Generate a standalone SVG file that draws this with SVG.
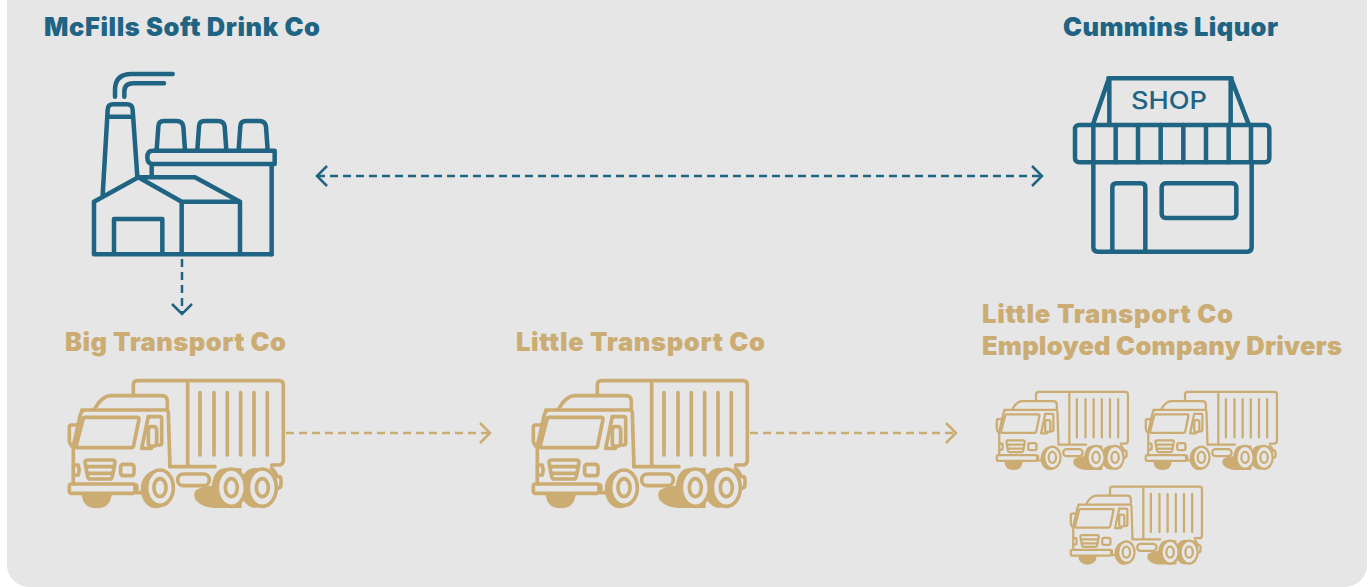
<svg xmlns="http://www.w3.org/2000/svg" xmlns:xlink="http://www.w3.org/1999/xlink" width="1370" height="587" viewBox="0 0 1370 587">
<style>
.head{font-family:"Inter","Liberation Sans",sans-serif;font-weight:900;font-size:25.500px}
.teal{fill:#1f6482}
.gold{fill:#cbac72}
.ico{fill:none;stroke-linecap:round;stroke-linejoin:round}
.tl{stroke:#1f6482;stroke-width:13.500}
.gd{stroke:#cbac72;stroke-width:11}
.conn{fill:none;stroke-width:2.500;stroke-dasharray:8 5}
</style>
<defs>
<marker id="ct" markerUnits="userSpaceOnUse" markerWidth="28" markerHeight="28" refX="14" refY="14" orient="auto-start-reverse" overflow="visible"><path d="M4 4L14 14L4 24" fill="none" stroke="#1f6482" stroke-width="2.500"/></marker>
<marker id="cg" markerUnits="userSpaceOnUse" markerWidth="28" markerHeight="28" refX="14" refY="14" orient="auto" overflow="visible"><path d="M4 4L14 14L4 24" fill="none" stroke="#cbac72" stroke-width="2.500"/></marker>
<g id="truck" transform="scale(.33333)">
<g class="gold">
<path d="M80 370H170Q168 415 125 415Q82 415 80 370Z"/>
<ellipse cx="303" cy="358" rx="46" ry="57"/>
<path d="M510 295Q478 295 470 347Q440 348 420 362Q415 375 420 388Q440 414 480 414H560V295Z"/>
<ellipse cx="600" cy="353" rx="45" ry="60"/>
</g>
<g class="ico gd">
<path d="M235 75V45Q235 32 248 32H672Q685 32 685 45V270Q685 285 670 285H650M398 32V290M345 290H480"/>
<path d="M435 68V255M477 68V255M517 68V255M557 68V255M597 68V255M637 68V255"/>
<path d="M120 115Q140 80 165 77H320Q337 77 337 95V115M80 120H335Q340 122 340 130L345 290"/>
<path d="M85 122Q78 125 76 135L55 228V342"/>
<path d="M90 142H247Q253 142 252 148L236 226Q235 233 228 233H68Q62 233 64 226L84 148Q85 142 90 142Z"/>
<path d="M65 165H50Q43 165 43 172V212Q43 220 50 228"/>
<path d="M280 140H314Q320 140 320 146V219Q320 225 314 225H303"/>
<path d="M280 140L260 235H290"/>
<rect x="280" y="170" width="25" height="58" rx="8"/>
<rect x="43" y="342" width="197" height="28" rx="6"/>
<path d="M90 278Q90 270 98 270H172Q180 270 180 278L172 320Q170 327 163 327H107Q100 327 98 320Z"/>
<path d="M95 290H176M98 310H173"/>
<rect x="197" y="283" width="40" height="34" rx="8"/>
<path d="M55 285H70Q75 300 70 315H55"/>
<path d="M245 345V368H270"/>
<rect x="368" y="312" width="95" height="35" rx="17"/>
<path d="M650 295Q665 310 665 320H672Q678 320 678 330V345Q678 353 668 355"/>
</g>
<g class="ico gd" style="fill:#e6e6e6">
<ellipse cx="315" cy="353" rx="40" ry="53"/>
<ellipse cx="315" cy="353" rx="18" ry="27"/>
<ellipse cx="529" cy="353" rx="42" ry="56"/>
<ellipse cx="529" cy="353" rx="18" ry="27"/>
<ellipse cx="622" cy="353" rx="42" ry="56"/>
<ellipse cx="622" cy="353" rx="18" ry="27"/>
</g>
</g>
</defs>
<rect id="panel" x="7" y="-40" width="1360" height="627" rx="22" fill="#e6e6e6"/>
<g id="connectors">
<path class="conn" stroke="#1f6482" d="M317 176H1042" marker-start="url(#ct)" marker-end="url(#ct)"/>
<path class="conn" stroke="#1f6482" d="M182 259V314" marker-end="url(#ct)"/>
<path class="conn" stroke="#cbac72" d="M286 433H490" marker-end="url(#cg)"/>
<path class="conn" stroke="#cbac72" d="M750 433H956" marker-end="url(#cg)"/>
</g>
<g id="mcfills">
<text class="head teal" x="44" y="35.500" textLength="276">McFills Soft Drink Co</text>
<g transform="translate(60 60) scale(.33333)" class="ico tl">
<path d="M165 110V90Q165 42 215 42H338M193 110V95Q193 70 220 70H312"/>
<path d="M128 405L143 150Q143 133 160 133H200Q218 133 218 150L232 350M148 170H215"/>
<path d="M290 270L295 200Q295 183 312 183H350Q368 183 370 200L375 270M412 270L417 200Q417 183 434 183H474Q492 183 494 200L499 270M536 270L541 200Q541 183 558 183H598Q616 183 618 200L623 270"/>
<path d="M278 272H644V312H278Q262 312 262 292Q262 272 278 272ZM275 312V350M635 312V583"/>
<path d="M102 425L235 352L365 425V583M102 425V583H635M235 352H405L540 425H365M540 425V583M162 583V477H307V583"/>
</g>
</g>
<g id="cummins">
<text class="head teal" x="1063" y="35.500" textLength="215">Cummins Liquor</text>
<g transform="translate(1060 70) scale(.33333)" class="ico tl">
<path d="M145 25H515M148 25V165M512 25V165M145 30L100 160M515 30L565 160"/>
<rect x="45" y="165" width="583" height="112" rx="12"/>
<path d="M100 165V277M167 165V277M234 165V277M302 165V277M370 165V277M438 165V277M506 165V277M573 165V277"/>
<path d="M100 277V532Q100 545 113 545H562Q575 545 575 532V277M157 545V352Q157 340 170 340H243Q256 340 256 352V545"/>
<rect x="305" y="340" width="224" height="104" rx="12"/>
</g>
<text x="1131" y="108.500" textLength="76" lengthAdjust="spacingAndGlyphs" class="teal" style="font-family:'Inter','Liberation Sans',sans-serif;font-weight:500;font-size:24px">SHOP</text>
</g>
<g id="big-transport">
<text class="head gold" x="65" y="350.500" textLength="221">Big Transport Co</text>
<use xlink:href="#truck" href="#truck" transform="translate(55 370)"/>
</g>
<g id="little-transport">
<text class="head gold" x="516" y="350.500" textLength="249">Little Transport Co</text>
<use xlink:href="#truck" href="#truck" transform="translate(519 370)"/>
</g>
<g id="little-drivers">
<text class="head gold" x="982" y="322.500" textLength="251">Little Transport Co</text>
<text class="head gold" x="982" y="354.500" textLength="360">Employed Company Drivers</text>
<use xlink:href="#truck" href="#truck" transform="translate(988 385.300) scale(.613)"/>
<use xlink:href="#truck" href="#truck" transform="translate(1137 385.300) scale(.613)"/>
<use xlink:href="#truck" href="#truck" transform="translate(1062 480) scale(.613)"/>
</g>
</svg>
